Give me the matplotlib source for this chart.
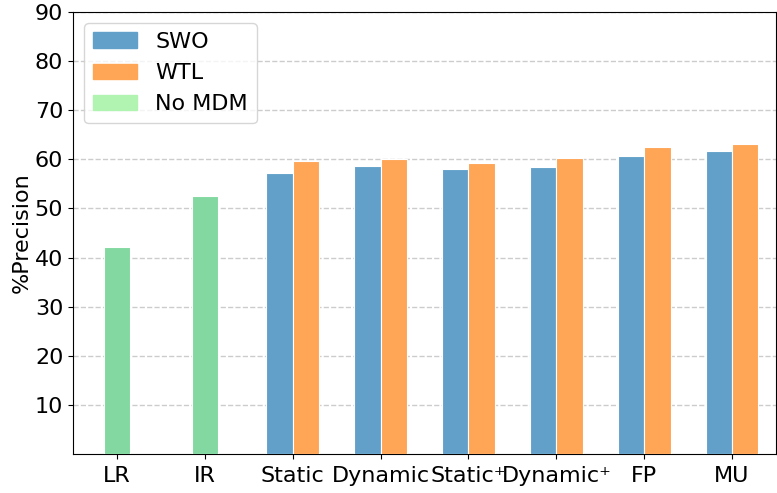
import matplotlib
matplotlib.use("Agg")
import matplotlib.pyplot as plt
from matplotlib.patches import Patch
import numpy as np

# data
baselines = ["LR", "IR"]
baseline_vals = [42.2, 52.6]
methods = ["Static", "Dynamic", "Static\u207a", "Dynamic\u207a", "FP", "MU"]
swo_vals = [57.2, 58.65, 58.0, 58.4, 60.75, 61.7]
wtl_vals = [59.6, 60.0, 59.3, 60.3, 62.5, 63.1]

c_swo = "#62a0ca"
c_wtl = "#ffa556"
c_base = "#82d8a0"
c_base_leg = "#b1f3b1"

fig = plt.figure(figsize=(7.77, 4.93), dpi=100)
ax = fig.add_axes([73 / 777, 39 / 493, 703 / 777, 442 / 493])

w = 0.3
xb = np.arange(len(baselines))
xm = np.arange(len(methods)) + len(baselines)

ax.bar(xb, baseline_vals, w, color=c_base, edgecolor="white", linewidth=0.8, zorder=3)
ax.bar(xm - w / 2, swo_vals, w, color=c_swo, edgecolor="white", linewidth=0.8, zorder=3)
ax.bar(xm + w / 2, wtl_vals, w, color=c_wtl, edgecolor="white", linewidth=0.8, zorder=3)

ax.set_xticks(np.concatenate([xb, xm]))
ax.set_xticklabels(baselines + methods, fontsize=16)
ax.set_xlim(-0.5, 7.5)
ax.set_ylim(0, 90)
ax.set_yticks(range(10, 91, 10))
ax.tick_params(axis="y", labelsize=16)
ax.tick_params(axis="x", pad=5)
ax.set_ylabel("%Precision", fontsize=16, labelpad=2)
ax.yaxis.grid(True, linestyle="--", color="#cccccc", linewidth=1, zorder=0)
ax.set_axisbelow(True)

handles = [Patch(color=c_swo, label="SWO"),
           Patch(color=c_wtl, label="WTL"),
           Patch(color=c_base_leg, label="No MDM")]
ax.legend(handles=handles, loc="upper left", fontsize=16, handlelength=2.0,
          borderaxespad=0.5)

fig.savefig("out.png", dpi=100)
